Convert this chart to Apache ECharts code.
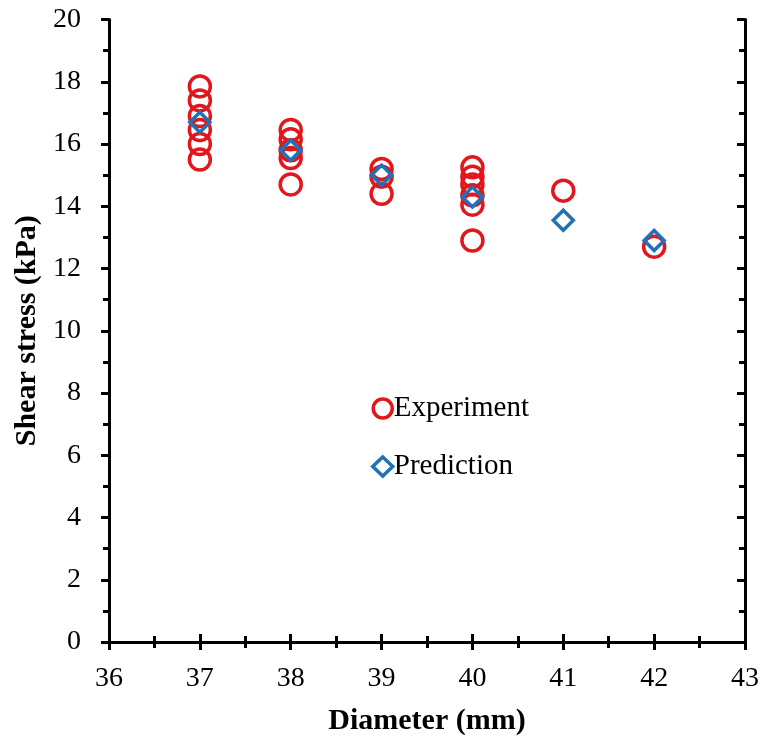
<!DOCTYPE html>
<html>
<head>
<meta charset="utf-8">
<script src="https://cdn.jsdelivr.net/npm/echarts@6/dist/echarts.min.js"></script>
<style>html,body{margin:0;padding:0;background:#fff;}#c{width:763px;height:744px;}</style>
</head>
<body>
<div id="c"></div>
<script>
// Data
const expX = [37,37,37,37,37,37, 38,38,38,38,38, 39,39,39, 40,40,40,40,40,40, 41, 42];
const expY = [17.85,17.4,16.9,16.45,16.0,15.5, 16.45,16.15,15.8,15.55,14.7, 15.2,14.95,14.4, 15.25,14.95,14.7,14.35,14.05,12.9, 14.5, 12.7];
const predX = [37,38,39,40,41,42];
const predY = [16.7,15.8,15.0,14.3,13.55,12.9];
const seriesNames = ['Experiment','Prediction'];
const xTitle = 'Diameter (mm)';
const yTitle = 'Shear stress (kPa)';

const font = 'Liberation Serif';
const chart = echarts.init(document.getElementById('c'), null, {renderer:'canvas'});
const lineStyle = {color:'#000', width:3};
const baseX = {type:'value', min:36, max:43, interval:1, splitLine:{show:false}};
const baseY = {type:'value', min:0, max:20, interval:2, splitLine:{show:false}};
chart.setOption({
  backgroundColor:'#fff',
  animation:false,
  grid:{left:109, right:18, top:19.5, bottom:102, containLabel:false},
  legend:{
    orient:'vertical', left:366, top:389, itemGap:29, itemWidth:20, itemHeight:19,
    itemStyle:{borderWidth:3.5},
    textStyle:{fontFamily:font, fontSize:29, color:'#000', padding:[0,0,0,-4]},
    data:seriesNames
  },
  xAxis:[
    Object.assign({}, baseX, {position:'bottom',
      axisLine:{lineStyle:lineStyle},
      axisTick:{inside:true, length:8, lineStyle:{color:'#000', width:3}},
      minorTick:{show:true, splitNumber:2, length:6, lineStyle:{color:'#000', width:3}},
      axisLabel:{fontFamily:font, fontSize:28, color:'#000', margin:23},
      name:xTitle, nameLocation:'middle', nameGap:64,
      nameTextStyle:{fontFamily:font, fontSize:30, fontWeight:'bold', color:'#000'}
    }),
    Object.assign({}, baseX, {position:'top',
      axisLine:{lineStyle:lineStyle},
      axisTick:{inside:true, length:8, lineStyle:{color:'#000', width:3}},
      minorTick:{show:true, splitNumber:2, length:6, lineStyle:{color:'#000', width:3}},
      axisLabel:{show:false}
    })
  ],
  yAxis:[
    Object.assign({}, baseY, {position:'left',
      axisLine:{lineStyle:lineStyle},
      axisTick:{inside:false, length:8, lineStyle:{color:'#000', width:3}},
      minorTick:{show:true, splitNumber:2, length:6, lineStyle:{color:'#000', width:3}},
      axisLabel:{fontFamily:font, fontSize:28, color:'#000', margin:28},
      name:yTitle, nameLocation:'middle', nameGap:66, nameRotate:90,
      nameTextStyle:{fontFamily:font, fontSize:30, fontWeight:'bold', color:'#000'}
    }),
    Object.assign({}, baseY, {position:'right',
      axisLine:{lineStyle:lineStyle},
      axisTick:{inside:true, length:8, lineStyle:{color:'#000', width:3}},
      minorTick:{show:true, splitNumber:2, length:6, lineStyle:{color:'#000', width:3}},
      axisLabel:{show:false}
    })
  ],
  series:[
    {name:seriesNames[0], type:'scatter', symbol:'circle', symbolSize:21,
     itemStyle:{color:'rgba(255,255,255,0)', borderColor:'#e3161b', borderWidth:3.5, opacity:1},
     data:expX.map((x,i)=>[x, expY[i]])},
    {name:seriesNames[1], type:'scatter', symbol:'diamond', symbolSize:20,
     itemStyle:{color:'rgba(255,255,255,0)', borderColor:'#1f72b8', borderWidth:3.5, opacity:1},
     data:predX.map((x,i)=>[x, predY[i]])}
  ]
});
</script>
</body>
</html>
